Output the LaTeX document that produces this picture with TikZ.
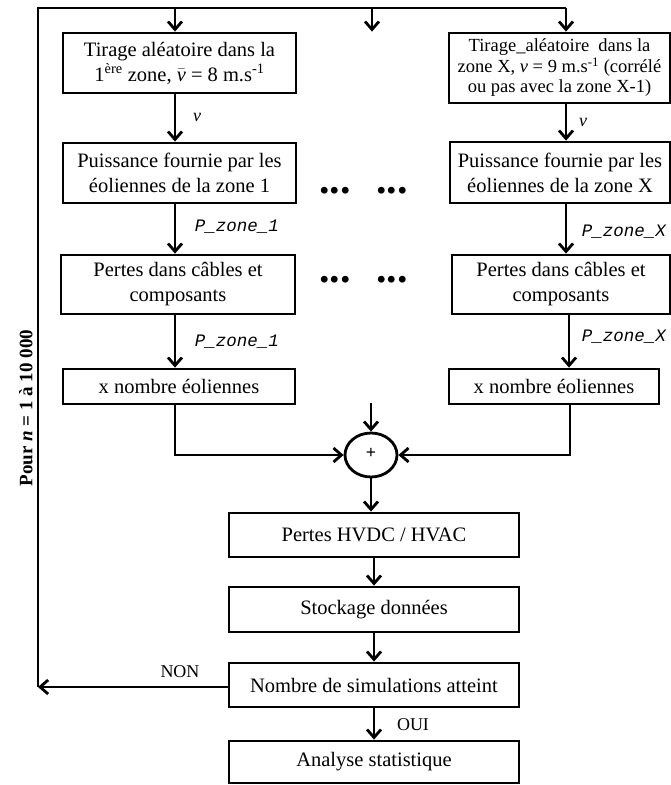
\documentclass[tikz,border=0pt]{standalone}
\usepackage{fontspec}
\setmainfont{Liberation Serif}
\newfontfamily\monofam{Liberation Mono}
\usetikzlibrary{arrows.meta,shapes.geometric}
\newcommand\myfs[2]{\fontsize{#1}{#2}\selectfont}
\tikzset{
  box/.style={draw, line width=2.8pt, inner sep=1pt, align=center, font=\myfs{20.5}{25}},
  smallbox/.style={box, font=\myfs{18.5}{20.5}},
  ln/.style={line width=2.8pt},
  arr/.style={line width=2.8pt, -{Straight Barb[length=8pt,width=14pt]}},
  lbl/.style={inner sep=0pt, font=\myfs{18}{20}},
  plbl/.style={inner sep=0pt, font=\monofam\itshape\myfs{17.5}{20}},
  dots/.style={inner sep=0pt, font=\bfseries\myfs{42}{42}},
}
\begin{document}
\begin{tikzpicture}[x=1pt,y=-1pt]
\useasboundingbox (0,0) rectangle (671,785);
% column coordinates
\coordinate (cL) at (175,0);
\coordinate (cM) at (372,0);
\coordinate (cR) at (566,0);
\coordinate (tl) at (38,8);
\coordinate (tr) at (566,8);
\coordinate (bl) at (38,687);
% left column
\node[box, minimum width=233pt, minimum height=60pt] (L1) at (179.5,63)
  {Tirage aléatoire dans la\\1\textsuperscript{ère} zone, \(\bar{\mbox{\itshape v}}\) = 8 m.s\textsuperscript{-1}};
\node[box, minimum width=233pt, minimum height=60pt] (L2) at (179.5,173)
  {Puissance fournie par les\\éoliennes de la zone 1};
\node[box, minimum width=234pt, minimum height=59pt] (L3) at (178,284.5)
  {Pertes dans câbles et\\composants};
\node[box, minimum width=232pt, minimum height=35pt] (L4) at (179,386.5)
  {x nombre éoliennes};
% right column
\node[smallbox, minimum width=221pt, minimum height=70pt] (R1) at (559.5,68)
  {Tirage\_aléatoire\ \ dans la\\zone X, \textit{v} = 9 m.s\textsuperscript{-1} (corrélé\\ou pas avec la zone X-1)};
\node[box, minimum width=220pt, minimum height=61pt] (R2) at (560,172.5)
  {Puissance fournie par les\\éoliennes de la zone X};
\node[box, minimum width=218pt, minimum height=59pt] (R3) at (561,284.5)
  {Pertes dans câbles et\\composants};
\node[box, minimum width=210pt, minimum height=35pt] (R4) at (554,386.5)
  {x nombre éoliennes};
% dots
\node[dots] (d1) at (335,191) {...};
\node[dots] (d2) at (392,191) {...};
\node[dots] (d3) at (335,280) {...};
\node[dots] (d4) at (392,280) {...};
% sum
\node[draw, ellipse, line width=2.8pt, minimum width=52pt, minimum height=44pt, inner sep=0pt,
      font=\bfseries\myfs{18}{18}] (sum) at (371,455) {\raisebox{3pt}{+}};
\coordinate (mtop) at (371,403);
% central column
\node[box, minimum width=290pt, minimum height=44pt] (hv) at (374,535) {Pertes HVDC / HVAC};
\node[box, minimum width=290pt, minimum height=45pt] (st) at (374,609.5) {Stockage données};
\node[box, minimum width=290pt, minimum height=44pt] (nb) at (374,685) {Nombre de simulations atteint};
\node[box, minimum width=290pt, minimum height=42pt] (an) at (374,762) {Analyse statistique};
% loop
\draw[ln] (bl) -- (tl) -- (tr);
\draw[arr] (cL |- tl) -- (cL |- L1.north);
\draw[arr] (cM |- tl) -- (cM |- L1.north);
\draw[arr] (cR |- tl) -- (cR |- R1.north);
% left arrows
\draw[arr] (cL |- L1.south) -- (cL |- L2.north);
\draw[arr] (cL |- L2.south) -- (cL |- L3.north);
\draw[arr] (cL |- L3.south) -- (cL |- L4.north);
% right arrows
\draw[arr] (cR |- R1.south) -- (cR |- R2.north);
\draw[arr] (cR |- R2.south) -- (cR |- R3.north);
\draw[arr] ([xshift=3pt]cR |- R3.south) -- ([xshift=3pt]cR |- R4.north);
% labels
\node[lbl] (v1) at (197,117) {\textit{v}};
\node[lbl] (v2) at (583,122) {\textit{v}};
\node[plbl] (p1) at (237,227) {P\_zone\_1};
\node[plbl] (p2) at (237,342) {P\_zone\_1};
\node[plbl] (p3) at (624,232) {P\_zone\_X};
\node[plbl] (p4) at (624,337) {P\_zone\_X};
% to sum
\draw[arr] (cL |- L4.south) |- (sum.west);
\draw[arr] ([xshift=4pt]cR |- R4.south) |- (sum.east);
\draw[arr] (mtop) -- (sum.north);
\draw[arr] (sum.south) -- (sum.south |- hv.north);
\draw[arr] (hv.south) -- (st.north);
\draw[arr] (st.south) -- (nb.north);
\draw[arr] (nb.south) -- (an.north);
\draw[arr] (nb.west |- bl) -- (bl);
\node[lbl] (non) at (180,672) {NON};
\node[lbl] (oui) at (413,725) {OUI};
\node[rotate=90, inner sep=0pt, font=\bfseries\myfs{19}{22}] (pour) at (26,408) {Pour \textit{n} = 1 à 10 000};
\end{tikzpicture}
\end{document}
